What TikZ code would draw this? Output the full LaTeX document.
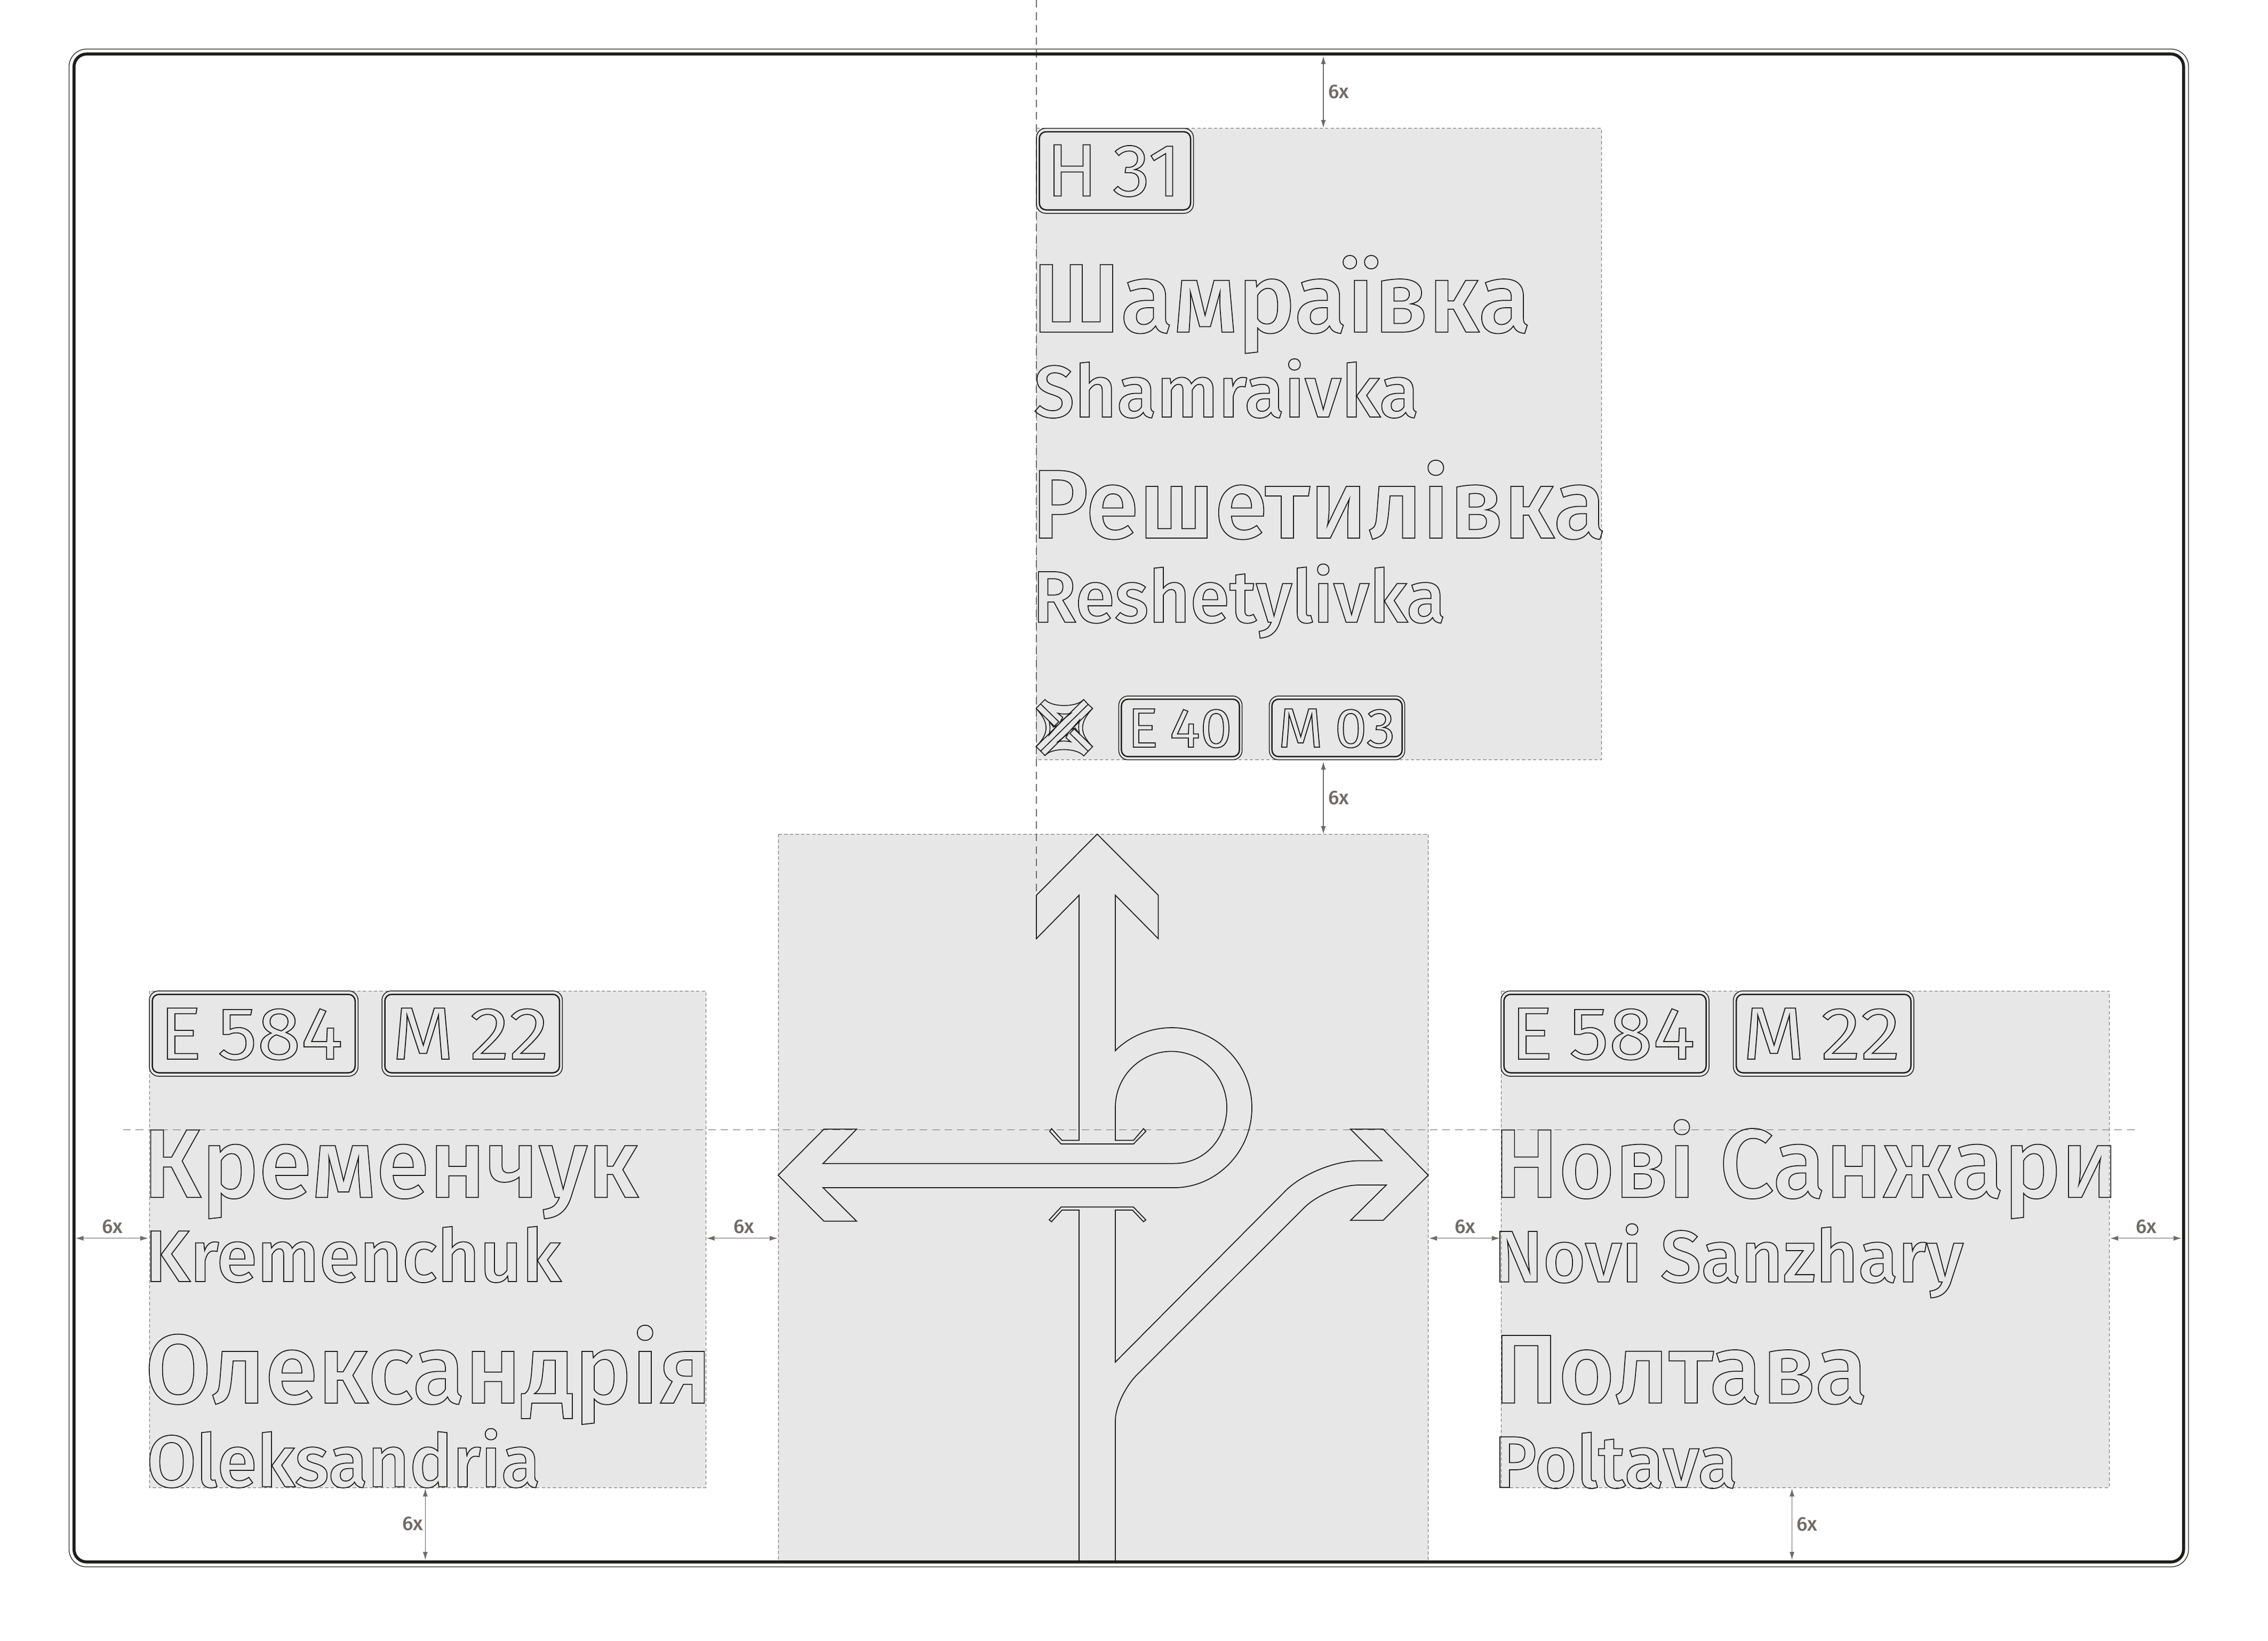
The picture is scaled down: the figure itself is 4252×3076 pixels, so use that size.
\documentclass[tikz,border=0pt]{standalone}
\usepackage{fontspec}
\usepackage{graphicx}
\usetikzlibrary{arrows.meta}
\setmainfont{Fira Sans Medium}
\newfontfamily\platefont{Fira Sans}
\definecolor{panel}{HTML}{E7E7E7}
\definecolor{guide}{HTML}{6F6B68}
\definecolor{ink}{HTML}{1D1D1B}
\newsavebox\fitbox
\newcommand\outl[3]{\sbox\fitbox{\fontsize{#1}{#1}\selectfont #3}%
\pgfmathsetmacro\fitr{#2*0.24/\the\wd\fitbox}%
\scalebox{\fitr}[1]{\special{pdf:code 1 Tr 0.42 w}\usebox\fitbox\special{pdf:code 0 Tr}}}
\tikzset{
 panelbox/.style={fill=panel,draw=guide,line width=0.24pt,dash pattern=on 1.5pt off 1pt},
 centre/.style={draw=guide,line width=0.28pt,dash pattern=on 3.4pt off 2.2pt},
 road/.style={draw=ink,line width=0.42pt,line join=miter},
 plateout/.style={draw=ink,line width=0.36pt,fill=panel,rounded corners=4.2pt},
 platein/.style={draw=ink,line width=0.6pt,rounded corners=3pt},
 lettering/.style={anchor=base west,inner sep=0pt,outer sep=0pt,text=ink},
 dim/.style={draw=guide,line width=0.3pt,{Latex[length=3.6pt,width=2.2pt]}-{Latex[length=3.6pt,width=2.2pt]}},
 dimlabel/.style={anchor=base west,inner sep=0pt,text=guide,font=\fontsize{8.9}{9}\selectfont},
 icon/.style={draw=ink,line width=0.4pt,line join=miter},
}
\begin{document}
\begin{tikzpicture}[x=0.24pt,y=-0.24pt]
\useasboundingbox (0,0) rectangle (4252,3076);
\fill[white] (0,0) rectangle (4252,3076);
% panels
\draw[panelbox] (1943,240.6) rectangle (3002,1424);
\draw[panelbox] (1459,1564) rectangle (2677.7,2927);
\draw[panelbox] (280,1858) rectangle (1323,2789);
\draw[panelbox] (2814,1858) rectangle (3954,2789);
% guides
\coordinate (gv1) at (1943,0); \coordinate (gv2) at (1943,1678);
\coordinate (gh1) at (231,2118.3); \coordinate (gh2) at (4003,2118.3);
\draw[centre] (gv1) -- (gv2);
\draw[centre] (gh1) -- (gh2);
% plates
\newcommand\plate[5]{\draw[plateout] (#1,#3) rectangle (#2,#4);
 \draw[platein] (#1+#5,#3+#5+1) rectangle (#2-#5,#4-#5-1);}
\plate{1943}{2237.5}{240.6}{400}{5.5}
\plate{2097.4}{2328.6}{1305}{1424.7}{5}
\plate{2379.6}{2633.7}{1305}{1424.7}{5}
\plate{280}{671.3}{1858}{2018}{5.5}
\plate{716}{1054.4}{1858}{2018}{5.5}
\plate{2814}{3204}{1858}{2018}{5.5}
\plate{3249.6}{3588}{1858}{2018}{5.5}
% plate texts
\node[lettering] (pH) at (1962,367.4) {\outl{33.4}{252}{\platefont H\kern0.2em 31}};
\node[lettering] (pE40) at (2114,1401) {\outl{25}{196}{\platefont E\kern0.2em 40}};
\node[lettering] (pM03) at (2396,1401) {\outl{25}{220}{\platefont M\kern0.2em 03}};
\node[lettering] (pEl) at (299,1986) {\outl{33.4}{344}{\platefont E\kern0.2em 584}};
\node[lettering] (pMl) at (735,1986) {\outl{33.4}{294}{\platefont M\kern0.2em 22}};
\node[lettering] (pEr) at (2832,1986) {\outl{33.4}{346}{\platefont E\kern0.2em 584}};
\node[lettering] (pMr) at (3267,1986) {\outl{33.4}{296}{\platefont M\kern0.2em 22}};
% names
\node[lettering] (t1) at (1935,622.8) {\outl{44}{935}{Шамраївка}};
\node[lettering] (t2) at (1938,782) {\outl{32.9}{722}{Shamraivka}};
\node[lettering] (t3) at (1934,1009) {\outl{44}{1077}{Решетилівка}};
\node[lettering] (t4) at (1936,1166.7) {\outl{32.9}{774}{Reshetylivka}};
\node[lettering] (t5) at (268,2245.3) {\outl{44}{930}{Кременчук}};
\node[lettering] (t6) at (272,2403) {\outl{32.9}{780}{Kremenchuk}};
\node[lettering] (t7) at (272,2631) {\outl{44}{1062}{Олександрія}};
\node[lettering] (t8) at (275,2787.8) {\outl{32.9}{738}{Oleksandria}};
\node[lettering] (t9) at (2801,2245.3) {\outl{44}{1170}{Нові Санжари}};
\node[lettering] (t10) at (2801,2403.8) {\outl{32.9}{880}{Novi Sanzhary}};
\node[lettering] (t11) at (2801,2630.7) {\outl{44}{700}{Полтава}};
\node[lettering] (t12) at (2801,2789) {\outl{32.9}{456}{Poltava}};
% interchange icon
\begin{scope}[shift={(1935,1300)},x=0.08pt,y=-0.08pt]
\draw[icon] (48,325) -- (315,62) -- (340,85) -- (72,350) -- cycle;
\draw[icon] (22,300) -- (290,35);
\draw[icon] (22,85) -- (72,35) .. controls (110,80) and (250,80) .. (290,35) -- (315,62);
\draw[icon] (340,85) .. controls (265,165) and (265,225) .. (340,300) -- (290,352) .. controls (250,305) and (110,305) .. (72,350);
\draw[icon] (22,85) .. controls (97,165) and (97,225) .. (22,300) -- (48,325);
\draw[icon] (22,85) -- (125,185) -- (150,160) -- (48,60);
\draw[icon] (340,300) -- (237,200) -- (212,225) -- (314,325);
\draw[icon] (145,112) .. controls (170,118) and (195,118) .. (218,112) -- (160,158) -- (172,135) -- cycle;
\draw[icon] (217,273) .. controls (192,267) and (167,267) .. (144,273) -- (202,227) -- (190,250) -- cycle;
\draw[icon] (95,155) -- (120,190) -- (143,180) -- (95,235) .. controls (102,210) and (102,180) .. (95,155);
\draw[icon] (267,230) -- (242,195) -- (219,205) -- (267,150) .. controls (260,175) and (260,205) .. (267,230);
\end{scope}
% sign arrows
\draw[road] (2023,2138.3) -- (2023,1678.6) -- (1943,1760) -- (1943,1678.6) -- (2057,1564) -- (2171.4,1678.6) -- (2171.4,1760) -- (2091,1678.6) -- (2091,1970)
 .. controls (2119,1942) and (2157,1927) .. (2197,1927)
 .. controls (2280,1927) and (2347,1994) .. (2347,2077)
 .. controls (2347,2160) and (2280,2227) .. (2201,2227)
 -- (1543,2227) -- (1606,2289.8) -- (1544.6,2289.8) -- (1459,2203.6) -- (1544.6,2117.3) -- (1606,2117.3) -- (1543,2181.6)
 -- (2201,2181.6)
 .. controls (2259,2181.6) and (2300,2134.5) .. (2300,2076.5)
 .. controls (2300,2018.5) and (2254,1971.4) .. (2196,1971.4)
 .. controls (2138,1971.4) and (2091,2018.5) .. (2091,2076.5)
 -- (2091,2138.3) -- (2125,2138.3) -- (2143.8,2116.3) -- (2148.2,2121.4) -- (2125,2145) -- (1989.3,2145) -- (1967.9,2121.4) -- (1971.4,2116.3) -- (1991,2138.3) -- cycle;
\draw[road] (2023,2927) -- (2023,2269) -- (1991,2269) -- (1971.4,2290.8) -- (1967,2287.3) -- (1989.3,2263.3) -- (2125,2263.3) -- (2148.2,2287.3) -- (2143.8,2290.8) -- (2123.2,2269) -- (2091,2269) -- (2091,2554)
 -- (2409.4,2233.5) .. controls (2440,2202) and (2502,2176.5) .. (2547.3,2176.5) -- (2591,2176.5) -- (2532,2117.3) -- (2592.9,2117.3) -- (2677.7,2203.6) -- (2592.9,2288.3) -- (2532,2288.3) -- (2599,2222) -- (2547.3,2222)
 .. controls (2514,2222) and (2469,2241) .. (2445.6,2264) -- (2132.5,2576.7)
 .. controls (2110,2599) and (2091,2638) .. (2091,2663.6) -- (2091,2927);
% frame
\draw[draw=ink,line width=0.3pt,rounded corners=7.9pt] (129.5,92) rectangle (4103,2938);
\draw[draw=ink,line width=1.35pt,rounded corners=5.7pt] (138.7,101.3) rectangle (4093.7,2928.7);
% dimensions
\coordinate (d1a) at (2481,105); \coordinate (d1b) at (2481,240);
\coordinate (d2a) at (2481,1428); \coordinate (d2b) at (2481,1564);
\coordinate (d3a) at (141.5,2321.8); \coordinate (d3b) at (278,2321.8);
\coordinate (d4a) at (1324.7,2321.8); \coordinate (d4b) at (1458,2321.8);
\coordinate (d5a) at (2679,2321.8); \coordinate (d5b) at (2812,2321.8);
\coordinate (d6a) at (3956,2321.8); \coordinate (d6b) at (4090,2321.8);
\coordinate (d7a) at (797.3,2790.8); \coordinate (d7b) at (797.3,2925);
\coordinate (d8a) at (3359.5,2790.8); \coordinate (d8b) at (3359.5,2925);
\foreach \a/\b in {d1a/d1b,d2a/d2b,d3a/d3b,d4a/d4b,d5a/d5b,d6a/d6b,d7a/d7b,d8a/d8b}{\draw[dim] (\a) -- (\b);}
\node[dimlabel] (l1) at (2489.4,184) {6x};
\node[dimlabel] (l2) at (2489.4,1508) {6x};
\node[dimlabel] (l3) at (191,2312.6) {6x};
\node[dimlabel] (l4) at (1375,2312.6) {6x};
\node[dimlabel] (l5) at (2726.6,2312.6) {6x};
\node[dimlabel] (l6) at (4004,2312.6) {6x};
\node[dimlabel] (l7) at (753.4,2869.6) {6x};
\node[dimlabel] (l8) at (3367.5,2870.6) {6x};
\end{tikzpicture}
\end{document}
